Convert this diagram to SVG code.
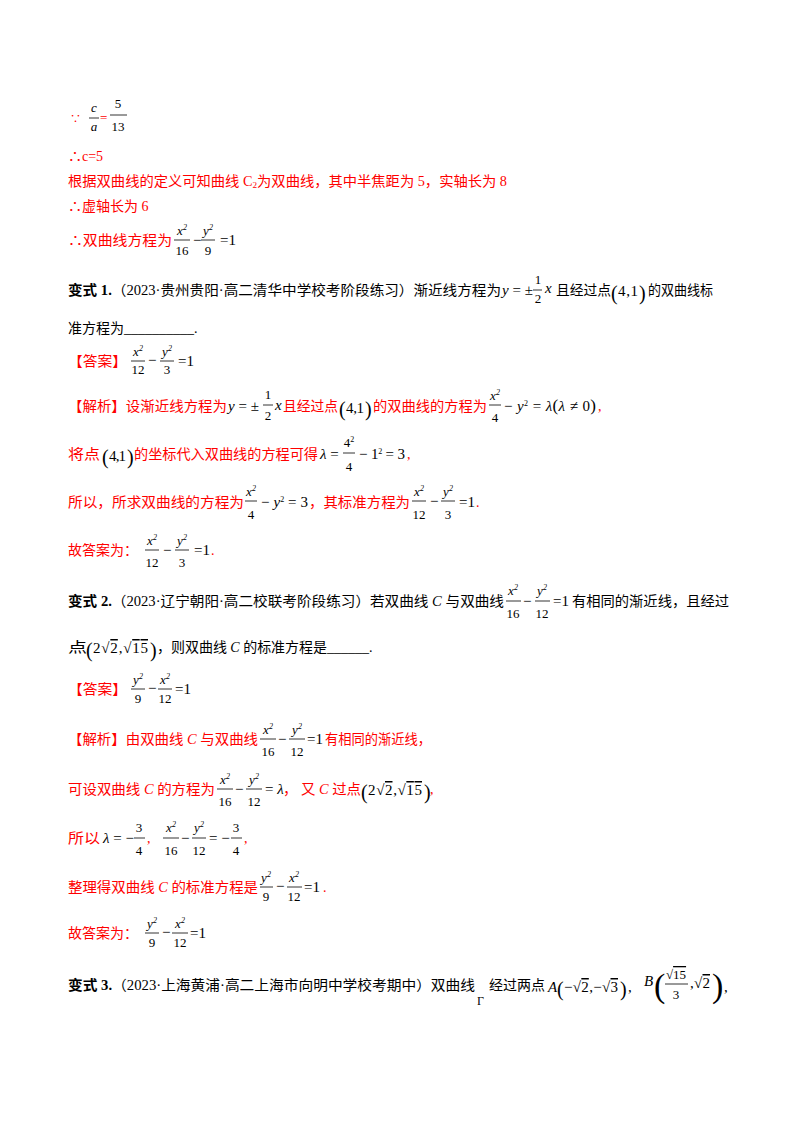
<svg xmlns="http://www.w3.org/2000/svg" width="800" height="1132" viewBox="0 0 800 1132">
<style>
text{font-family:"Liberation Serif","Noto Sans CJK SC",serif;font-size:14px;fill:#000}
.r{fill:#ff0000}
.i{font-style:italic}
.f{font-size:13px;text-anchor:middle}
.m{font-size:15px}
.s{font-size:8px}
.b{font-weight:bold}
.p{font-size:20px}
line{stroke-width:0.8;stroke:#000}
</style>
<rect width="800" height="1132" fill="#fff"/>
<g id="block1">
<text x="70" y="123" class="r" style="font-size:11px">∵</text>
<text x="94" y="112" class="f i">c</text><line x1="89" y1="118" x2="99" y2="118"/><text x="94" y="131" class="f i">a</text>
<text x="100" y="122" class="r" style="font-size:13px">=</text>
<text x="118" y="108" class="f">5</text><line x1="110" y1="115" x2="127" y2="115"/><text x="118" y="131" class="f">13</text>
<text x="68" y="161" class="r">∴c=5</text>
<text x="68" y="186" class="r" textLength="439" lengthAdjust="spacingAndGlyphs">根据双曲线的定义可知曲线 C<tspan style="font-size:9px" dy="2">2</tspan><tspan dy="-2">为双曲线，其中半焦距为 5，实轴长为 8</tspan></text>
<text x="68" y="211" class="r">∴虚轴长为 6</text>
<text x="68" y="245" class="r" textLength="104" lengthAdjust="spacingAndGlyphs">∴双曲线方程为</text>
<text x="182" y="235" class="f i">x<tspan class="s" dy="-5">2</tspan></text><line x1="174" y1="240" x2="190" y2="240"/><text x="182" y="255" class="f">16</text>
<text x="193" y="245" class="m">−</text>
<text x="208" y="235" class="f i">y<tspan class="s" dy="-5">2</tspan></text><line x1="201" y1="240" x2="215" y2="240"/><text x="208" y="255" class="f">9</text>
<text x="220" y="245" class="m">=1</text>
</g>
<g id="q1">
<text x="68" y="295" textLength="433" lengthAdjust="spacingAndGlyphs"><tspan class="b">变式 1.</tspan>（2023·贵州贵阳·高二清华中学校考阶段练习）渐近线方程为</text>
<text x="502" y="295" class="m"><tspan class="i">y</tspan> = ±</text>
<text x="538" y="284" class="f">1</text><line x1="533" y1="290" x2="542" y2="290"/><text x="538" y="303" class="f">2</text>
<text x="545" y="293" class="m i">x</text>
<text x="556" y="295" textLength="55" lengthAdjust="spacingAndGlyphs">且经过点</text>
<text x="611" y="300" class="p">(</text><text x="618" y="296" class="m" textLength="20">4,1</text><text x="639" y="300" class="p">)</text>
<text x="648" y="295" textLength="65" lengthAdjust="spacingAndGlyphs">的双曲线标</text>
<text x="68" y="333">准方程为<tspan>__________.</tspan></text>
<text x="68" y="366" class="r" textLength="59" lengthAdjust="spacingAndGlyphs">【答案】</text>
<text x="138" y="356" class="f i">x<tspan class="s" dy="-5">2</tspan></text><line x1="131" y1="361" x2="145" y2="361"/><text x="138" y="374" class="f">12</text>
<text x="148" y="365" class="m">−</text>
<text x="167" y="356" class="f i">y<tspan class="s" dy="-5">2</tspan></text><line x1="160" y1="361" x2="174" y2="361"/><text x="167" y="374" class="f">3</text>
<text x="178" y="366" class="m">=1</text>
</g>
<g id="a1">
<text x="68" y="411" class="r" textLength="159" lengthAdjust="spacingAndGlyphs">【解析】设渐近线方程为</text>
<text x="228" y="411" class="m"><tspan class="i">y</tspan> = ±</text>
<text x="268" y="399" class="f">1</text><line x1="263" y1="405" x2="273" y2="405"/><text x="268" y="420" class="f">2</text>
<text x="275" y="410" class="m i">x</text>
<text x="283" y="411" class="r" textLength="55" lengthAdjust="spacingAndGlyphs">且经过点</text>
<text x="339" y="416" class="p">(</text><text x="346" y="413" class="m" textLength="18">4,1</text><text x="365" y="416" class="p">)</text>
<text x="373" y="411" class="r" textLength="114" lengthAdjust="spacingAndGlyphs">的双曲线的方程为</text>
<text x="495" y="400" class="f i">x<tspan class="s" dy="-5">2</tspan></text><line x1="489" y1="405" x2="501" y2="405"/><text x="495" y="422" class="f">4</text>
<text x="504" y="411" class="m" textLength="92">− <tspan class="i">y</tspan><tspan class="s" dy="-5">2</tspan><tspan dy="5"> = </tspan><tspan class="i">λ</tspan><tspan style="font-size:17px">(</tspan><tspan class="i">λ</tspan> ≠ 0<tspan style="font-size:17px">)</tspan></text>
<text x="598" y="411" class="r">,</text>
<text x="68" y="459" class="r" textLength="32" lengthAdjust="spacingAndGlyphs">将点</text>
<text x="102" y="464" class="p">(</text><text x="109" y="461" class="m" textLength="17">4,1</text><text x="127" y="464" class="p">)</text>
<text x="134" y="459" class="r" textLength="184" lengthAdjust="spacingAndGlyphs">的坐标代入双曲线的方程可得</text>
<text x="320" y="459" class="m"><tspan class="i">λ</tspan> =</text>
<text x="349" y="447" class="f">4<tspan class="s" dy="-5">2</tspan></text><line x1="343" y1="453" x2="355" y2="453"/><text x="349" y="471" class="f">4</text>
<text x="359" y="459" class="m" textLength="46">− 1<tspan class="s" dy="-5">2</tspan><tspan dy="5"> = 3</tspan></text>
<text x="407" y="459" class="r">,</text>
<text x="68" y="507" class="r" textLength="176" lengthAdjust="spacingAndGlyphs">所以，所求双曲线的方程为</text>
<text x="251" y="496" class="f i">x<tspan class="s" dy="-5">2</tspan></text><line x1="245" y1="501" x2="257" y2="501"/><text x="251" y="519" class="f">4</text>
<text x="261" y="507" class="m" textLength="47">− <tspan class="i">y</tspan><tspan class="s" dy="-5">2</tspan><tspan dy="5"> = 3</tspan></text>
<text x="309" y="507" class="r" textLength="101" lengthAdjust="spacingAndGlyphs">，其标准方程为</text>
<text x="419" y="496" class="f i">x<tspan class="s" dy="-5">2</tspan></text><line x1="412" y1="501" x2="426" y2="501"/><text x="419" y="519" class="f">12</text>
<text x="430" y="506" class="m">−</text>
<text x="448" y="496" class="f i">y<tspan class="s" dy="-5">2</tspan></text><line x1="441" y1="501" x2="455" y2="501"/><text x="448" y="519" class="f">3</text>
<text x="459" y="507" class="m">=1</text><text x="476" y="507" class="r">.</text>
<text x="68" y="555" class="r" textLength="70" lengthAdjust="spacingAndGlyphs">故答案为：</text>
<text x="152" y="545" class="f i">x<tspan class="s" dy="-5">2</tspan></text><line x1="145" y1="550" x2="159" y2="550"/><text x="152" y="567" class="f">12</text>
<text x="163" y="555" class="m">−</text>
<text x="182" y="545" class="f i">y<tspan class="s" dy="-5">2</tspan></text><line x1="175" y1="550" x2="189" y2="550"/><text x="182" y="567" class="f">3</text>
<text x="194" y="555" class="m">=1</text><text x="211" y="555" class="r">.</text>
</g>
<g id="q2">
<text x="68" y="606" textLength="436" lengthAdjust="spacingAndGlyphs"><tspan class="b">变式 2.</tspan>（2023·辽宁朝阳·高二校联考阶段练习）若双曲线 <tspan class="i">C</tspan> 与双曲线</text>
<text x="513" y="595" class="f i">x<tspan class="s" dy="-5">2</tspan></text><line x1="506" y1="601" x2="521" y2="601"/><text x="513" y="618" class="f">16</text>
<text x="523" y="606" class="m">−</text>
<text x="542" y="595" class="f i">y<tspan class="s" dy="-5">2</tspan></text><line x1="535" y1="601" x2="550" y2="601"/><text x="542" y="618" class="f">12</text>
<text x="553" y="606" class="m">=1</text>
<text x="572" y="606" textLength="157" lengthAdjust="spacingAndGlyphs">有相同的渐近线，且经过</text>
<text x="68" y="652" textLength="19" lengthAdjust="spacingAndGlyphs">点</text>
<text x="86" y="657" class="p">(</text><text x="93" y="653" class="m" textLength="55">2√<tspan text-decoration="overline">2</tspan>,√<tspan text-decoration="overline">15</tspan></text><text x="150" y="657" class="p">)</text>
<text x="157" y="652" textLength="170" lengthAdjust="spacingAndGlyphs">，则双曲线 <tspan class="i">C</tspan> 的标准方程是</text>
<text x="327" y="652">______.</text>
<text x="68" y="694" class="r" textLength="59" lengthAdjust="spacingAndGlyphs">【答案】</text>
<text x="138" y="684" class="f i">y<tspan class="s" dy="-5">2</tspan></text><line x1="131" y1="689" x2="145" y2="689"/><text x="138" y="703" class="f">9</text>
<text x="148" y="693" class="m">−</text>
<text x="165" y="684" class="f i">x<tspan class="s" dy="-5">2</tspan></text><line x1="158" y1="689" x2="172" y2="689"/><text x="165" y="703" class="f">12</text>
<text x="175" y="694" class="m">=1</text>
</g>
<g id="a2">
<text x="68" y="744" class="r" textLength="190" lengthAdjust="spacingAndGlyphs">【解析】由双曲线 <tspan class="i">C</tspan> 与双曲线</text>
<text x="268" y="734" class="f i">x<tspan class="s" dy="-5">2</tspan></text><line x1="260" y1="739" x2="276" y2="739"/><text x="268" y="756" class="f">16</text>
<text x="278" y="744" class="m">−</text>
<text x="297" y="734" class="f i">y<tspan class="s" dy="-5">2</tspan></text><line x1="289" y1="739" x2="305" y2="739"/><text x="297" y="756" class="f">12</text>
<text x="307" y="744" class="m">=1</text>
<text x="325" y="744" class="r" textLength="106" lengthAdjust="spacingAndGlyphs">有相同的渐近线，</text>
<text x="68" y="794" class="r" textLength="147" lengthAdjust="spacingAndGlyphs">可设双曲线 <tspan class="i">C</tspan> 的方程为</text>
<text x="225" y="784" class="f i">x<tspan class="s" dy="-5">2</tspan></text><line x1="217" y1="789" x2="233" y2="789"/><text x="225" y="806" class="f">16</text>
<text x="235" y="794" class="m">−</text>
<text x="254" y="784" class="f i">y<tspan class="s" dy="-5">2</tspan></text><line x1="246" y1="789" x2="262" y2="789"/><text x="254" y="806" class="f">12</text>
<text x="265" y="794" class="m">= <tspan class="i">λ</tspan></text>
<text x="283" y="794" class="r" textLength="78" lengthAdjust="spacingAndGlyphs">， 又 <tspan class="i">C</tspan> 过点</text>
<text x="361" y="799" class="p">(</text><text x="368" y="795" class="m" textLength="54">2√<tspan text-decoration="overline">2</tspan>,√<tspan text-decoration="overline">15</tspan></text><text x="424" y="799" class="p">)</text>
<text x="430" y="794" class="r">,</text>
<text x="68" y="843" class="r" textLength="32" lengthAdjust="spacingAndGlyphs">所以</text>
<text x="103" y="843" class="m"><tspan class="i">λ</tspan> = −</text>
<text x="139" y="832" class="f">3</text><line x1="134" y1="838" x2="145" y2="838"/><text x="139" y="855" class="f">4</text>
<text x="147" y="843" class="r">,</text>
<text x="171" y="832" class="f i">x<tspan class="s" dy="-5">2</tspan></text><line x1="163" y1="838" x2="179" y2="838"/><text x="171" y="855" class="f">16</text>
<text x="181" y="843" class="m">−</text>
<text x="199" y="832" class="f i">y<tspan class="s" dy="-5">2</tspan></text><line x1="192" y1="838" x2="206" y2="838"/><text x="199" y="855" class="f">12</text>
<text x="209" y="843" class="m">= −</text>
<text x="236" y="832" class="f">3</text><line x1="231" y1="838" x2="242" y2="838"/><text x="236" y="855" class="f">4</text>
<text x="244" y="843" class="r">,</text>
<text x="68" y="892" class="r" textLength="190" lengthAdjust="spacingAndGlyphs">整理得双曲线 <tspan class="i">C</tspan> 的标准方程是</text>
<text x="266" y="882" class="f i">y<tspan class="s" dy="-5">2</tspan></text><line x1="260" y1="887" x2="273" y2="887"/><text x="266" y="901" class="f">9</text>
<text x="276" y="891" class="m">−</text>
<text x="294" y="882" class="f i">x<tspan class="s" dy="-5">2</tspan></text><line x1="287" y1="887" x2="302" y2="887"/><text x="294" y="901" class="f">12</text>
<text x="304" y="892" class="m">=1</text><text x="323" y="892" class="r">.</text>
<text x="68" y="938" class="r" textLength="70" lengthAdjust="spacingAndGlyphs">故答案为：</text>
<text x="152" y="928" class="f i">y<tspan class="s" dy="-5">2</tspan></text><line x1="145" y1="933" x2="159" y2="933"/><text x="152" y="947" class="f">9</text>
<text x="162" y="937" class="m">−</text>
<text x="180" y="928" class="f i">x<tspan class="s" dy="-5">2</tspan></text><line x1="172" y1="933" x2="188" y2="933"/><text x="180" y="947" class="f">12</text>
<text x="190" y="938" class="m">=1</text>
</g>
<g id="q3">
<text x="68" y="990" textLength="407" lengthAdjust="spacingAndGlyphs"><tspan class="b">变式 3.</tspan>（2023·上海黄浦·高二上海市向明中学校考期中）双曲线</text>
<text x="477" y="1005" style="font-size:12px">Γ</text>
<text x="489" y="990" textLength="56" lengthAdjust="spacingAndGlyphs">经过两点</text>
<text x="548" y="992" class="m i">A</text>
<text x="557" y="996" class="p">(</text><text x="564" y="992" class="m" textLength="54">−√<tspan text-decoration="overline">2</tspan>,−√<tspan text-decoration="overline">3</tspan></text><text x="620" y="996" class="p">)</text>
<text x="628" y="992" class="m">,</text>
<text x="644" y="986" class="m i">B</text>
<text x="654" y="997" style="font-size:34px">(</text>
<text x="676" y="979" class="f">√<tspan text-decoration="overline">15</tspan></text><line x1="665" y1="984" x2="688" y2="984"/><text x="676" y="999" class="f">3</text>
<text x="690" y="988" class="m" textLength="20">,√<tspan text-decoration="overline">2</tspan></text>
<text x="712" y="997" style="font-size:34px">)</text>
<text x="724" y="992" class="m">,</text>
</g>
</svg>
